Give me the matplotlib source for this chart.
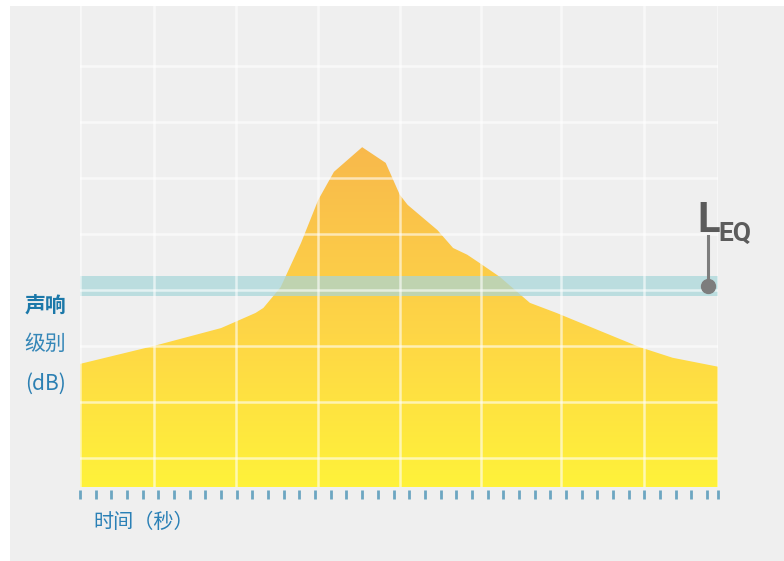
import numpy as np
import matplotlib.pyplot as plt
from matplotlib.colors import LinearSegmentedColormap
from matplotlib.patches import Rectangle

plt.rcParams['font.family'] = ['Noto Sans CJK SC', 'DejaVu Sans']

# sound level over time (time in tick units, level in dB)
time_s = [0, 4.7, 9.0, 9.9, 11.2, 11.7, 12.8, 14.1, 15.2, 16.2, 18.0, 19.5,
          20.4, 20.9, 22.8, 23.8, 24.7, 25.5, 26.8, 28.7, 30.4, 33.0, 35.7,
          37.8, 40.7]
level_db = [56.8, 60.0, 63.2, 64.3, 65.9, 66.8, 70.5, 78.4, 86.1, 91.1, 95.5,
            92.7, 87.0, 85.2, 80.7, 77.5, 76.3, 74.8, 72.3, 67.7, 65.9, 62.9,
            59.8, 57.9, 56.3]

leq_db = 70.7
leq_half_width = 1.8

tick_times = list(range(41)) + [40.7]
grid_times = [0, 4.7, 9.95, 15.2, 20.4, 25.55, 30.7, 35.95, 40.7]
grid_db = [40, 50, 60, 70, 80, 90, 100, 110]

y_min, y_max = 34.82, 120.71
x_max = 40.7

fig = plt.figure(figsize=(7.84, 5.61), dpi=100)
fig.patch.set_facecolor('white')
fig.patches.append(Rectangle((10 / 784, 0), 1, 555 / 561, transform=fig.transFigure,
                             facecolor='#efefef', edgecolor='none', zorder=-5))

ax = fig.add_axes([80 / 784, 74 / 561, 638 / 784, 481 / 561])
ax.set_facecolor('#efefef')

# gradient filled area
poly = ax.fill_between(time_s, level_db, y_min, facecolor='none', edgecolor='none')
cmap = LinearSegmentedColormap.from_list(
    'sun', [(0, '#fff23a'), (0.45, '#fed646'), (1, '#f8b94c')])
grad = np.linspace(0, 1, 256).reshape(-1, 1)
img = ax.imshow(grad, extent=[0, x_max, y_min, max(level_db)], origin='lower',
                aspect='auto', cmap=cmap, zorder=1)
img.set_clip_path(poly.get_paths()[0], transform=ax.transData)

# LEQ band
ax.axhspan(leq_db - leq_half_width, leq_db + leq_half_width, color='#a8d6da',
           alpha=0.72, lw=0, zorder=2)

ax.set_xlim(0, x_max)
ax.set_ylim(y_min, y_max)

ax.xaxis.remove_overlapping_locs = False
ax.set_xticks(grid_times)
ax.set_yticks(grid_db)
ax.set_xticks(tick_times, minor=True)
ax.grid(True, which='major', color='white', lw=1.8, alpha=0.6)
ax.set_axisbelow(False)
ax.tick_params(axis='both', which='major', length=0, labelbottom=False, labelleft=False)
ax.tick_params(axis='x', which='minor', length=6.5, width=2, color='#6ca6c1',
               direction='out', labelbottom=False)
for s in ax.spines.values():
    s.set_visible(False)
ax.spines['bottom'].set_position(('outward', 2.5))

# LEQ marker
mark_t = 40.06
ax.plot([mark_t, mark_t], [leq_db, 79.6], color='#7d7d7d', lw=2.2, clip_on=False, zorder=4)
ax.plot(mark_t, leq_db, 'o', ms=10, color='#7d7d7d', clip_on=False, zorder=5)
ax.text(39.36, 80.36, 'L', fontsize=30, fontweight='bold', family='Roboto',
        color='#5b5b5b', ha='left', va='baseline', clip_on=False)
ax.text(40.7, 78.75, 'EQ', fontsize=19, fontweight='bold', family='Roboto',
        color='#5b5b5b', ha='left', va='baseline', clip_on=False)

# axis labels
fig.text(66 / 784, 1 - 306 / 561, '声响', fontsize=15, fontweight='bold',
         color='#1b78a9', ha='right', va='center')
fig.text(66 / 784, 1 - 344 / 561, '级别', fontsize=15, fontweight='medium',
         color='#3587b8', ha='right', va='center')
fig.text(66 / 784, 1 - 384 / 561, '(dB)', fontsize=15, fontweight='medium',
         color='#2c80b3', ha='right', va='center')
fig.text(93 / 784, 1 - 523 / 561, '时间（秒）', fontsize=14.5, fontweight='medium',
         color='#2a80b6', ha='left', va='center')

fig.savefig('out.png', dpi=100, facecolor=fig.get_facecolor())
